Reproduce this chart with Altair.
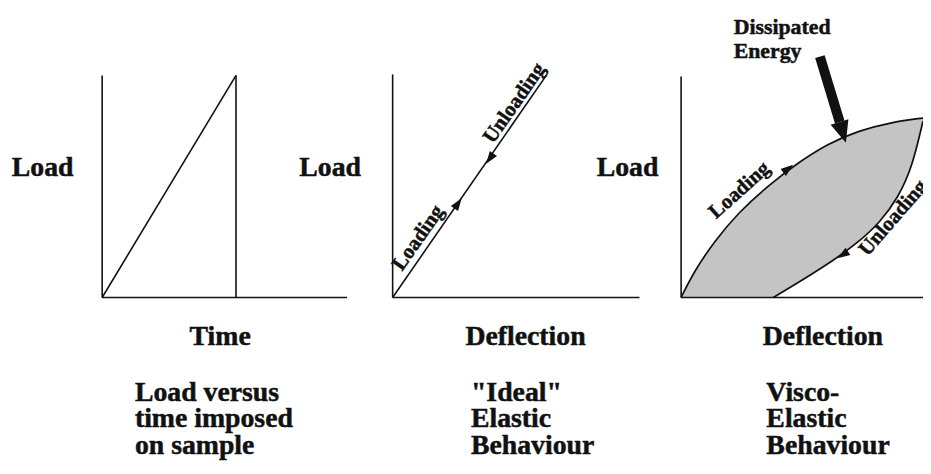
import altair as alt
import pandas as pd

# ---- diagram geometry (page pixels, y grows downward) ----
X_DOMAIN = [8, 931]
Y_DOMAIN = [8, 466]

# straight strokes: axes, ramp, hold line, ideal elastic line
seg_x1 = [103, 103, 396, 396, 687, 687, 103, 238, 396]
seg_y1 = [298, 298, 298, 298, 298, 298, 298, 74, 298]
seg_x2 = [103, 350, 396, 645, 687, 931, 238, 238, 551]
seg_y2 = [74, 298, 73, 298, 75, 298, 74, 298, 74]

# visco-elastic loop
loading_x = [687, 700, 720, 745, 775, 805, 835, 865, 900, 931]
loading_y = [298, 272, 242, 212, 185, 162, 143, 130, 121, 117]
unloading_x = [780, 810, 840, 865, 888, 906, 920, 931]
unloading_y = [298, 280, 261, 243, 222, 197, 167, 120]
base_y = 298

# small arrow heads on the curves
head_x = [462, 494, 795, 850]
head_y = [203, 158, 168, 255]
head_angle = [35, 215, 52, 237]

# big "dissipated energy" arrow
big_shaft = dict(x=827, y=55, x2=847, y2=121)
big_head = dict(x=850, y=131.5, angle=163)

# texts
axis_labels = ["Load", "Load", "Load", "Time", "Deflection", "Deflection"]
axis_lx = [43, 333, 633, 222, 530, 830]
axis_ly = [175, 175, 175, 346, 346, 346]

captions = ["Load versus", "time imposed", "on sample",
            '"Ideal"', "Elastic", "Behaviour",
            "Visco-", "Elastic", "Behaviour"]
cap_x = [136, 136, 136, 475, 475, 475, 773, 773, 773]
cap_y = [402, 429, 456, 402, 429, 456, 402, 429, 456]

note_text = ["Dissipated", "Energy"]
note_x = [740, 740]
note_y = [32, 56]

path_text = ["Loading", "Unloading", "Loading", "Unloading"]
path_x = [422, 519, 746, 901]
path_y = [238, 102, 190, 218]
path_angle = [305, 305, 318, 311]

FONT = "Liberation Serif"
INK = "#111111"

xs = alt.Scale(domain=X_DOMAIN, nice=False, zero=False)
ys = alt.Scale(domain=Y_DOMAIN, nice=False, zero=False, reverse=True)


def X(f):
    return alt.X(f, type="quantitative", scale=xs, axis=None)


def Y(f):
    return alt.Y(f, type="quantitative", scale=ys, axis=None)


seg_df = pd.DataFrame({"x": seg_x1, "y": seg_y1, "x2": seg_x2, "y2": seg_y2})
up_df = pd.DataFrame({"x": loading_x, "y": loading_y, "b": base_y})
dn_df = pd.DataFrame({"x": unloading_x, "y": unloading_y, "b": base_y})
curve_df = pd.concat([up_df.assign(c="load"), dn_df.assign(c="unload")])
head_df = pd.DataFrame({"x": head_x, "y": head_y, "a": head_angle})
shaft_df = pd.DataFrame([big_shaft])
bighead_df = pd.DataFrame([big_head])
axl_df = pd.DataFrame({"t": axis_labels, "x": axis_lx, "y": axis_ly})
cap_df = pd.DataFrame({"t": captions, "x": cap_x, "y": cap_y})
note_df = pd.DataFrame({"t": note_text, "x": note_x, "y": note_y})
path_df = pd.DataFrame({"t": path_text, "x": path_x, "y": path_y, "a": path_angle})

fill_up = alt.Chart(up_df).mark_area(color="#c4c4c4", interpolate="basis").encode(
    x=X("x"), y=Y("y"), y2="b")
fill_dn = alt.Chart(dn_df).mark_area(color="white", interpolate="basis").encode(
    x=X("x"), y=Y("y"), y2="b")
curves = alt.Chart(curve_df).mark_line(color=INK, strokeWidth=1.7, interpolate="basis").encode(
    x=X("x"), y=Y("y"), detail="c")
segs = alt.Chart(seg_df).mark_rule(color=INK, strokeWidth=1.6).encode(
    x=X("x"), y=Y("y"), x2="x2", y2="y2")
heads = alt.Chart(head_df).mark_point(
    shape="M0,-1L0.7,1L-0.7,1Z", filled=True, color=INK, opacity=1, size=160).encode(
    x=X("x"), y=Y("y"), angle=alt.Angle("a:Q", scale=None))
shaft = alt.Chart(shaft_df).mark_rule(color=INK, strokeWidth=10, strokeCap="butt").encode(
    x=X("x"), y=Y("y"), x2="x2", y2="y2")
bighead = alt.Chart(bighead_df).mark_point(
    shape="M0,-1L0.85,1L-0.85,1Z", filled=True, color=INK, opacity=1, size=484).encode(
    x=X("x"), y=Y("y"), angle=alt.Angle("angle:Q", scale=None))


def txt(df, size, align, baseline, with_angle=False):
    enc = dict(x=X("x"), y=Y("y"), text=alt.Text("t:N"))
    if with_angle:
        enc["angle"] = alt.Angle("a:Q", scale=None)
    return alt.Chart(df).mark_text(font=FONT, fontSize=size, fontWeight="bold", color=INK,
                                   stroke=INK, strokeWidth=0.5,
                                   align=align, baseline=baseline).encode(**enc)


axl = txt(axl_df, 28, "center", "alphabetic")
caps = txt(cap_df, 28, "left", "alphabetic")
notes = txt(note_df, 22, "left", "alphabetic")
paths = txt(path_df, 21, "center", "middle", with_angle=True)

chart = alt.layer(fill_up, fill_dn, curves, segs, heads, shaft, bighead,
                  axl, caps, notes, paths).properties(
    width=923, height=458, autosize=alt.AutoSizeParams(type="none"), padding=0,
    background="white"
).configure_view(stroke=None).configure_text(font=FONT)

chart.save("out.html", embed_options={"renderer": "svg", "actions": False})
